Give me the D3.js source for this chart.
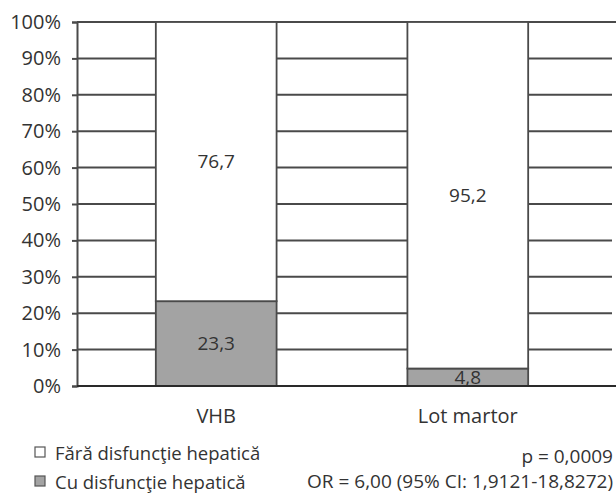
<!DOCTYPE html>
<html>
<head>
<meta charset="utf-8">
<script src="https://cdn.jsdelivr.net/npm/d3@7"></script>
<style>
  html, body { margin: 0; padding: 0; background: #fff; }
  svg { display: block; font-family: "Open Sans", sans-serif; }
</style>
</head>
<body>
<svg id="chart" width="616" height="493"></svg>
<script>
const categories = ["VHB", "Lot martor"];
const withDysfunction = [23.3, 4.8];      // Cu disfuncţie hepatică
const withoutDysfunction = [76.7, 95.2];  // Fără disfuncţie hepatică
const seriesNames = ["Cu disfuncţie hepatică", "Fără disfuncţie hepatică"];
const tickValues = [0, 10, 20, 30, 40, 50, 60, 70, 80, 90, 100];
const statLines = ["p = 0,0009", "OR = 6,00 (95% CI: 1,9121-18,8272)"];

const fmt = v => v.toFixed(1).replace(".", ",");

const svg = d3.select("#chart");
const W = 616, H = 493;
const plotLeft = 77, plotRight = 612;

const y = d3.scaleLinear().domain([0, 100]).range([386, 22]);
const x = d3.scaleBand().domain(categories).range([25, 659])
  .paddingInner(0.52).paddingOuter(0.52);

const lineColor = "#4a4a4a";
const textColor = "#333333";

// gridlines
svg.append("g").selectAll("line").data(tickValues).join("line")
  .attr("x1", plotLeft).attr("x2", d => (d === 0 || d === 100) ? W : plotRight)
  .attr("y1", d => y(d)).attr("y2", d => y(d))
  .attr("stroke", lineColor).attr("stroke-width", 2);

// y axis
const yAxis = d3.axisLeft(y).tickValues(tickValues).tickSize(5).tickPadding(11)
  .tickFormat(d => d + "%");
const ya = svg.append("g").attr("transform", `translate(${plotLeft},0)`).call(yAxis);
ya.select(".domain").attr("stroke", lineColor).attr("stroke-width", 2);
ya.selectAll(".tick line").attr("stroke", lineColor).attr("stroke-width", 2);
ya.selectAll(".tick text").attr("fill", textColor).attr("font-size", 20)
  .attr("font-family", "Open Sans, sans-serif");

// stacked data
const rows = categories.map((c, i) => ({ cat: c, cu: withDysfunction[i], fara: withoutDysfunction[i] }));
const stack = d3.stack().keys(["cu", "fara"]);
const stacked = stack(rows);
const fills = { cu: "#a3a3a3", fara: "#ffffff" };

stacked.forEach(layer => {
  const g = svg.append("g");
  g.selectAll("rect").data(layer).join("rect")
    .attr("x", d => x(d.data.cat))
    .attr("width", x.bandwidth())
    .attr("y", d => y(d[1]))
    .attr("height", d => y(d[0]) - y(d[1]))
    .attr("fill", fills[layer.key])
    .attr("stroke", lineColor).attr("stroke-width", 1.8);
  g.selectAll("text").data(layer).join("text")
    .attr("x", d => x(d.data.cat) + x.bandwidth() / 2)
    .attr("y", d => (y(d[0]) + y(d[1])) / 2)
    .attr("dy", "0.35em")
    .attr("text-anchor", "middle")
    .attr("fill", textColor).attr("font-size", 19)
    .text(d => fmt(d.data[layer.key]));
});

// x axis baseline
svg.append("line").attr("x1", plotLeft).attr("x2", W)
  .attr("y1", y(0)).attr("y2", y(0))
  .attr("stroke", "#2a2a2a").attr("stroke-width", 2.2);

// category labels
svg.append("g").selectAll("text").data(categories).join("text")
  .attr("x", d => x(d) + x.bandwidth() / 2)
  .attr("y", 423)
  .attr("text-anchor", "middle")
  .attr("fill", textColor).attr("font-size", 20)
  .text(d => d);

// legend
const legend = svg.append("g");
const legendItems = [
  { name: seriesNames[1], fill: fills.fara, y: 447 },
  { name: seriesNames[0], fill: fills.cu, y: 476 }
];
legend.selectAll("rect").data(legendItems).join("rect")
  .attr("x", 35).attr("y", d => d.y).attr("width", 10).attr("height", 10)
  .attr("fill", d => d.fill).attr("stroke", "#555").attr("stroke-width", 1.2);
legend.selectAll("text").data(legendItems).join("text")
  .attr("x", 55).attr("y", d => d.y + 12.5)
  .attr("fill", textColor).attr("font-size", 18.5)
  .text(d => d.name);

// statistics text
svg.append("g").selectAll("text").data(statLines).join("text")
  .attr("x", 613).attr("y", (d, i) => 463 + i * 25)
  .attr("text-anchor", "end")
  .attr("fill", textColor).attr("font-size", 19)
  .text(d => d);
</script>
</body>
</html>
